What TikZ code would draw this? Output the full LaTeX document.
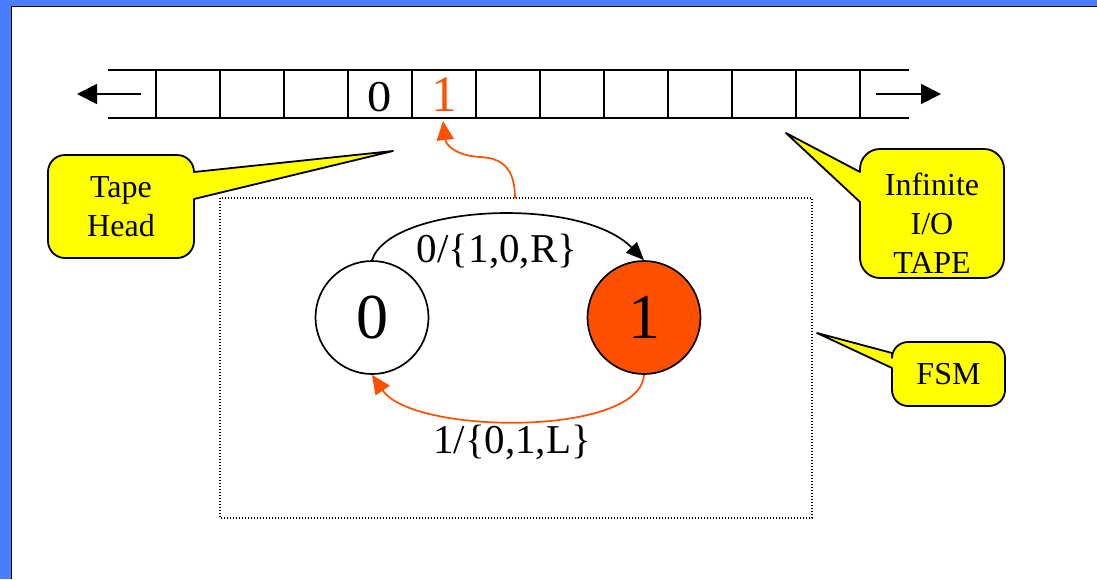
\documentclass[tikz,border=0pt]{standalone}
\usepackage{fontspec}
\setmainfont{Liberation Serif}
\usetikzlibrary{arrows.meta}
\definecolor{slideblue}{RGB}{72,126,255}
\definecolor{fsmorange}{RGB}{255,80,0}
\definecolor{callyellow}{RGB}{255,255,0}
\tikzset{
  tapeline/.style={line width=2pt, black},
  tapeext/.style={line width=1.6pt, black},
  tapearrow/.style={line width=1.8pt, -{Triangle[length=20pt,width=20pt]}},
  callout/.style={fill=callyellow, draw=black, line width=1.8pt, line join=round},
  calltext/.style={align=center, inner sep=0pt, font=\fontsize{32}{39}\selectfont},
  state/.style={circle, draw=black, line width=1.7pt, minimum size=113pt, inner sep=0pt, font=\fontsize{64}{64}\selectfont},
  translabel/.style={anchor=base, inner sep=0pt, font=\fontsize{41}{41}\selectfont},
  fsmframe/.style={draw=black, line width=1.2pt, dash pattern=on 1.2pt off 1.8pt},
  blackarc/.style={line width=1.7pt, -{Triangle[length=18pt,width=15pt]}},
  orangearc/.style={draw=fsmorange, line width=1.7pt, -{Triangle[length=19pt,width=17pt]}, fsmorange}
}
\begin{document}
\begin{tikzpicture}[x=1pt,y=-1pt]
\useasboundingbox (0,0) rectangle (1097,579);
% slide frame
\fill[white] (0,0) rectangle (1097,579);
\fill[slideblue] (0,0) rectangle (1097,6);
\fill[slideblue] (0,0) rectangle (11,579);
\draw[line width=1.5pt] (11.5,579) -- (11.5,6.5) -- (1097,6.5);

% tape
\draw[tapeext] (108,70) -- (156,70) (108,118) -- (156,118);
\draw[tapeext] (860,70) -- (909,70) (860,118) -- (909,118);
\draw[tapeline] (156,70) -- (860,70) (156,118) -- (860,118);
\foreach \x in {156,220,...,860} \draw[tapeline] (\x,70) -- (\x,118);
\node[anchor=base, inner sep=0pt, font=\fontsize{44}{44}\selectfont] (t0) at (380,111) {\scalebox{1.1}[1]{0}};
\node[anchor=base, inner sep=0pt, text=fsmorange, font=\fontsize{51}{51}\selectfont] (t1) at (444,111) {1};
\coordinate (la0) at (141,94); \coordinate (la1) at (77,94);
\coordinate (ra0) at (876,94); \coordinate (ra1) at (941,94);
\draw[tapearrow] (la0) -- (la1);
\draw[tapearrow] (ra0) -- (ra1);

% FSM frame
\draw[fsmframe] (220,198) rectangle (812,518);

% states
\node[state] (s0) at (372,317.5) {0};
\node[state, fill=fsmorange] (s1) at (644,317.5) {1};
\draw[blackarc] (s0.north) .. controls (390,205) and (580,195) .. (s1.north);
\draw[orangearc] (s1.south) .. controls (640,437) and (413,435) .. (s0.south);
\node[translabel] (l01) at (497,262) {0/\{1,0,R\}};
\node[translabel] (l10) at (512,453) {1/\{0,1,L\}};

% head arrow
\coordinate (headsrc) at (515,198);
\coordinate (headbend) at (480,157);
\coordinate (headtip) at (443,121);
\draw[orangearc] (headsrc) .. controls (515,166) and (500,158) .. (headbend) .. controls (458,156) and (446,146) .. (headtip);

% callouts
\draw[callout] (393,151) -- (194,199) [rounded corners=17] -- (194,258) -- (48,258) -- (48,155) -- (194,155) [sharp corners] -- (194,172) -- cycle;
\node[calltext] (tapehead) at (121,207) {Tape\\Head};

\draw[callout] (786,133) -- (860,202) [rounded corners=20] -- (860,278) -- (1004,278) -- (1004,149) -- (860,149) [sharp corners] -- (860,172) -- cycle;
\node[calltext] (iotape) at (932,223) {Infinite\\I/O\\TAPE};

\draw[callout] (817,333) -- (892,368) [rounded corners=16] -- (892,406) -- (1005,406) -- (1005,342) -- (892,342) [sharp corners] -- (892,353) -- cycle;
\node[calltext] (fsm) at (948.5,374) {FSM};
\end{tikzpicture}
\end{document}
